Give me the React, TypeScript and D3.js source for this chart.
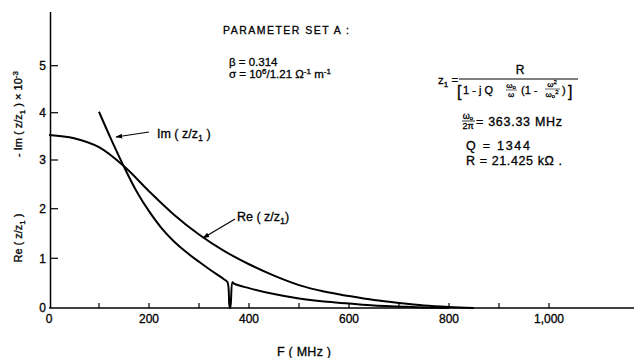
import React from 'react';
import * as d3 from 'd3';

// values, y in units of 10^-3
const reFreq = [0, 50, 100, 150, 200, 250, 300, 350, 400, 450, 500, 550, 600, 650, 700, 750, 800, 850];
const reValues = [3.53, 3.46, 3.27, 2.87, 2.36, 1.88, 1.48, 1.15, 0.88, 0.65, 0.46, 0.33, 0.24, 0.16, 0.1, 0.05, 0.02, 0];

const imFreq = [100, 125, 150, 175, 200, 225, 250, 275, 300, 325, 350, 357, 360.5, 362, 363.5, 367, 370, 400, 450, 500, 550, 600, 650, 700, 750, 800];
const imValues = [4.02, 3.42, 2.86, 2.36, 1.95, 1.61, 1.34, 1.12, 0.93, 0.75, 0.58, 0.52, 0.08, 0, 0.08, 0.52, 0.49, 0.4, 0.28, 0.19, 0.13, 0.09, 0.05, 0.03, 0.01, 0];

const xMinorTicks = [100, 200, 300, 400, 500, 600, 700, 800, 900, 1000];
const xLabelValues = [0, 200, 400, 600, 800, 1000];
const xLabels = ['0', '200', '400', '600', '800', '1,000'];
const yTicks = [0, 1, 2, 3, 4, 5];

const W = 637;
const H = 358;
const FONT = 'Liberation Sans, Arial, Helvetica, sans-serif';

const x = d3.scaleLinear().domain([0, 1000]).range([49, 549]);
// the scan is slightly stretched at the bottom, so map each tick to where it is
const y = d3.scaleLinear().domain([0, 1, 2, 3, 4, 5]).range([308, 258.3, 208.7, 160, 112.7, 65.7]);

const line = d3.line<[number, number]>()
  .x(d => x(d[0]))
  .y(d => Math.min(y(d[1]), y(0)))
  .curve(d3.curveCatmullRom.alpha(0.5));

const reData: [number, number][] = reFreq.map((f, i) => [f, reValues[i]]);
const imData: [number, number][] = imFreq.map((f, i) => [f, imValues[i]]);

const ink = { fill: '#000', stroke: '#000', strokeWidth: 0.3 };

const App = () => {
  return (
    <svg width={W} height={H} style={{ position: 'absolute', left: 0, top: 0, background: '#fff' }}
      fontFamily={FONT}>
      <defs>
        <marker id="arrow" viewBox="0 0 10 10" refX="9" refY="5" markerWidth="7" markerHeight="7"
          orient="auto" markerUnits="userSpaceOnUse">
          <path d="M0,1.5 L10,5 L0,8.5 z" fill="#000" />
        </marker>
      </defs>
      <rect width={W} height={H} fill="#fff" />

      {/* axes */}
      <line x1={50.5} x2={50.5} y1={12} y2={y(0)} stroke="#000" strokeWidth={1.5} />
      <line x1={49} x2={x(1170)} y1={y(0)} y2={y(0)} stroke="#000" strokeWidth={1.5} />

      {yTicks.filter(t => t > 0).map(t => (
        <line key={'yt' + t} x1={51} x2={58} y1={y(t)} y2={y(t)} stroke="#000" strokeWidth={1.2} />
      ))}
      {yTicks.map(t => (
        <text key={'yl' + t} x={46} y={y(t)} dy="0.36em" textAnchor="end" fontSize={12} {...ink}>{t}</text>
      ))}

      {xMinorTicks.map(t => (
        <line key={'xt' + t} x1={x(t)} x2={x(t)} y1={y(0)} y2={y(0) - 5} stroke="#000" strokeWidth={1.2} />
      ))}
      {xLabelValues.map((v, i) => (
        <text key={'xl' + v} x={x(v)} y={323} textAnchor="middle" fontSize={12} {...ink}>{xLabels[i]}</text>
      ))}

      <text x={277} y={356} fontSize={12.5} textLength={54} lengthAdjust="spacing" {...ink}>F ( MHz )</text>

      {/* y axis titles */}
      <text transform="translate(22,114) rotate(-90)" textAnchor="middle" fontSize={11} {...ink}>
        - Im ( z/z<tspan dy={3} fontSize={8}>1</tspan><tspan dy={-3}> )    × 10</tspan>
        <tspan dy={-4} fontSize={8}>-3</tspan>
      </text>
      <text transform="translate(22,238) rotate(-90)" textAnchor="middle" fontSize={11} {...ink}>
        Re ( z/z<tspan dy={3} fontSize={8}>1</tspan><tspan dy={-3}> )</tspan>
      </text>

      {/* curves */}
      <path d={line(reData) ?? ''} fill="none" stroke="#000" strokeWidth={2} strokeLinejoin="round" />
      <path d={line(imData) ?? ''} fill="none" stroke="#000" strokeWidth={2} strokeLinejoin="round" />

      {/* curve labels */}
      <line x1={149} y1={132} x2={116} y2={137} stroke="#000" strokeWidth={1.2} markerEnd="url(#arrow)" />
      <text x={157} y={138} fontSize={12.5} {...ink}>
        Im ( z/z<tspan dy={3} fontSize={9}>1</tspan><tspan dy={-3}> )</tspan>
      </text>
      <line x1={235} y1={219} x2={203} y2={238} stroke="#000" strokeWidth={1.2} markerEnd="url(#arrow)" />
      <text x={237} y={221} fontSize={12.5} {...ink}>
        Re ( z/z<tspan dy={3} fontSize={9}>1</tspan><tspan dy={-3}>)</tspan>
      </text>

      {/* parameter block */}
      <text x={223} y={34} fontSize={10.5} textLength={126} lengthAdjust="spacing" {...ink}>PARAMETER  SET A :</text>
      <text x={229} y={66} fontSize={11.5} {...ink}>β = 0.314</text>
      <text x={229} y={78} fontSize={11.5} {...ink}>
        σ = 10<tspan dy={-4} fontSize={8}>6</tspan><tspan dy={4}>/1.21 Ω</tspan>
        <tspan dy={-4} fontSize={8}>-1</tspan><tspan dy={4}> m</tspan><tspan dy={-4} fontSize={8}>-1</tspan>
      </text>

      {/* formula for z1 */}
      <text x={438} y={84} fontSize={11.5} {...ink}>
        z<tspan dy={3} fontSize={8}>1</tspan><tspan dy={-3}> =</tspan>
      </text>
      <text x={520} y={74} textAnchor="middle" fontSize={12} {...ink}>R</text>
      <line x1={459} x2={578} y1={79} y2={79} stroke="#000" strokeWidth={1} />
      <text x={457} y={97} fontSize={16} {...ink}>[</text>
      <text x={463} y={94} fontSize={11} {...ink}>1 - j Q</text>
      <text x={511} y={88} textAnchor="middle" fontSize={8} {...ink}>ω<tspan fontSize={6} dy={1}>o</tspan></text>
      <line x1={506} x2={517} y1={90} y2={90} stroke="#000" strokeWidth={0.6} />
      <text x={511} y={97} textAnchor="middle" fontSize={8} {...ink}>ω</text>
      <text x={521} y={94} fontSize={11} {...ink}>(1 -</text>
      <text x={552} y={87} textAnchor="middle" fontSize={8} {...ink}>ω<tspan fontSize={6} dy={-3}>2</tspan></text>
      <line x1={545} x2={560} y1={89} y2={89} stroke="#000" strokeWidth={0.6} />
      <text x={552} y={97} textAnchor="middle" fontSize={8} {...ink}>
        ω<tspan fontSize={6} dy={1}>o</tspan><tspan fontSize={6} dy={-4}>2</tspan>
      </text>
      <text x={562} y={94} fontSize={11} {...ink}>)</text>
      <text x={568} y={97} fontSize={16} {...ink}>]</text>

      {/* resonance values */}
      <text x={468} y={119} textAnchor="middle" fontSize={9} {...ink}>ω<tspan fontSize={6} dy={1}>o</tspan></text>
      <line x1={462} x2={475} y1={121} y2={121} stroke="#000" strokeWidth={0.8} />
      <text x={468} y={129} textAnchor="middle" fontSize={9} {...ink}>2π</text>
      <text x={476} y={126} fontSize={12.5} textLength={86} lengthAdjust="spacing" {...ink}>= 363.33 MHz</text>
      <text x={466} y={150} fontSize={12.5} textLength={64} lengthAdjust="spacing" {...ink}>Q = 1344</text>
      <text x={466} y={165} fontSize={12.5} textLength={96} lengthAdjust="spacing" {...ink}>R = 21.425 kΩ .</text>
    </svg>
  );
};

export default App;
